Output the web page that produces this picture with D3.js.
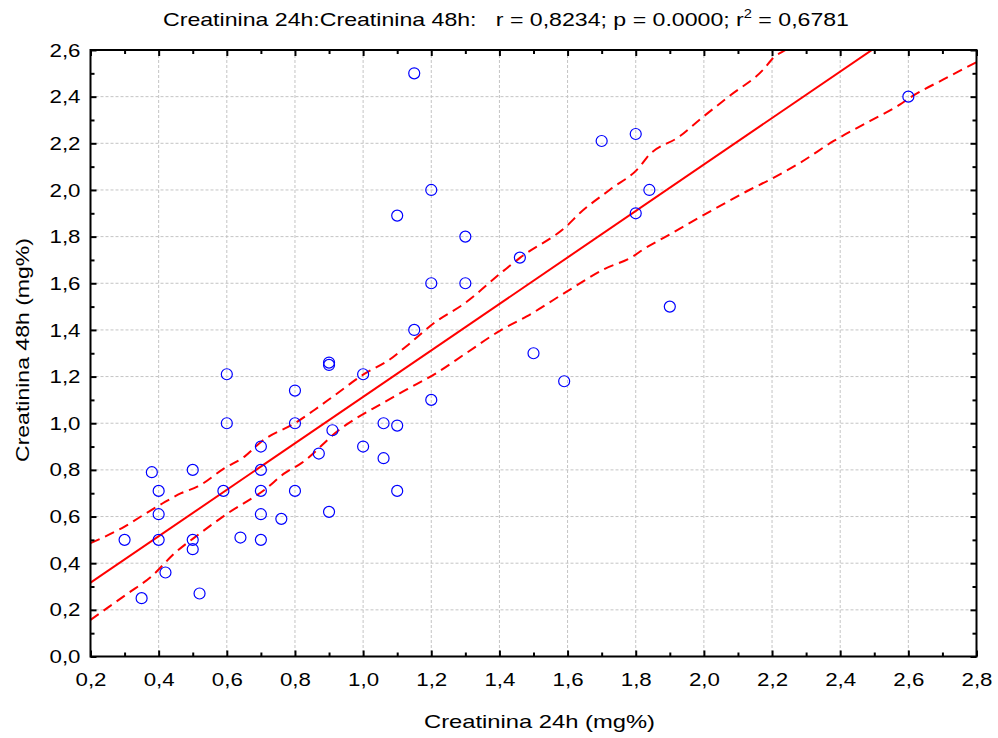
<!DOCTYPE html>
<html>
<head>
<meta charset="utf-8">
<script src="https://cdn.jsdelivr.net/npm/d3@7"></script>
<style>
  body { margin: 0; background: #fff; }
  svg { display: block; font-family: "Liberation Sans", Arial, sans-serif; }
</style>
</head>
<body>
<svg id="chart"></svg>
<script>
// Creatinina 24h vs 48h (mg%)
const pointsX = [0.30, 0.35, 0.38, 0.40, 0.40, 0.40, 0.42, 0.50, 0.50, 0.50, 0.52,
  0.60, 0.60, 0.59, 0.64, 0.70, 0.70, 0.70, 0.70, 0.70, 0.76, 0.80, 0.80, 0.80,
  0.87, 0.90, 0.90, 0.90, 0.91, 1.00, 1.00, 1.06, 1.06, 1.10, 1.10, 1.10, 1.15,
  1.15, 1.20, 1.20, 1.20, 1.30, 1.30, 1.46, 1.50, 1.59, 1.70, 1.80, 1.80, 1.84,
  1.90, 2.60];
const pointsY = [0.50, 0.25, 0.79, 0.71, 0.61, 0.50, 0.36, 0.80, 0.50, 0.46, 0.27,
  1.21, 1.00, 0.71, 0.51, 0.90, 0.80, 0.71, 0.61, 0.50, 0.59, 1.14, 1.00, 0.71,
  0.87, 1.26, 1.25, 0.62, 0.97, 1.21, 0.90, 1.00, 0.85, 1.89, 0.99, 0.71, 2.50,
  1.40, 2.00, 1.60, 1.10, 1.80, 1.60, 1.71, 1.30, 1.18, 2.21, 2.24, 1.90, 2.00,
  1.50, 2.40];

// regression line
const lineIntercept = 0.117;
const lineSlope = 0.996;
const lineX = [0.2, 2.8];

// 95% confidence band
const upperX = [0.2, 0.3, 0.364, 0.412, 0.466, 0.515, 0.594, 0.652, 0.702, 0.804,
  0.858, 0.912, 1.0, 1.078, 1.127, 1.215, 1.293, 1.411, 1.46, 1.597, 1.637, 1.725,
  1.813, 1.832, 1.93, 1.989, 2.077, 2.175, 2.204, 2.24, 2.3];
const upperY = [0.486, 0.557, 0.615, 0.657, 0.70, 0.729, 0.808, 0.857, 0.922, 1.004,
  1.058, 1.115, 1.208, 1.273, 1.33, 1.437, 1.509, 1.652, 1.709, 1.845, 1.902, 2.002,
  2.102, 2.138, 2.231, 2.303, 2.405, 2.517, 2.567, 2.60, 2.66];
const lowerX = [0.2, 0.31, 0.378, 0.447, 0.515, 0.604, 0.711, 0.77, 0.82, 0.93,
  1.058, 1.127, 1.215, 1.303, 1.411, 1.48, 1.607, 1.705, 1.793, 1.822, 1.891, 2.028,
  2.136, 2.195, 2.283, 2.381, 2.488, 2.576, 2.605, 2.703, 2.8];
const lowerY = [0.157, 0.271, 0.342, 0.443, 0.521, 0.615, 0.715, 0.786, 0.83, 0.972,
  1.087, 1.144, 1.215, 1.301, 1.405, 1.458, 1.573, 1.659, 1.716, 1.745, 1.802, 1.916,
  2.002, 2.045, 2.117, 2.21, 2.296, 2.367, 2.396, 2.474, 2.548];

const xTicks = d3.range(0.2, 2.81, 0.2);
const yTicks = d3.range(0, 2.61, 0.2);
const xMinor = d3.range(0.3, 2.8, 0.2);
const yMinor = d3.range(0.1, 2.6, 0.2);

const titleText = 'Creatinina 24h:Creatinina 48h:   r = 0,8234; p = 0.0000; r';
const xLabel = 'Creatinina 24h (mg%)';
const yLabel = 'Creatinina 48h (mg%)';

const W = 998, H = 738;
const margin = { top: 50, right: 21.5, bottom: 81.5, left: 90.5 };
const width = W - margin.left - margin.right;
const height = H - margin.top - margin.bottom;

const fmt = d3.formatLocale({ decimal: ',', thousands: '.', grouping: [3], currency: ['', ''] }).format('.1f');

const svg = d3.select('#chart').attr('width', W).attr('height', H);
const g = svg.append('g').attr('transform', `translate(${margin.left},${margin.top})`);

const xScale = d3.scaleLinear().domain([0.2, 2.8]).range([0, width]);
const yScale = d3.scaleLinear().domain([0, 2.6]).range([height, 0]);

// grid
g.append('g')
  .selectAll('line')
  .data(xTicks.slice(1, -1))
  .enter()
  .append('line')
  .attr('x1', (d) => xScale(d)).attr('x2', (d) => xScale(d))
  .attr('y1', 0).attr('y2', height)
  .attr('stroke', '#c4c4c4').attr('stroke-dasharray', '3,2');
g.append('g')
  .selectAll('line')
  .data(yTicks.slice(1, -1))
  .enter()
  .append('line')
  .attr('y1', (d) => yScale(d)).attr('y2', (d) => yScale(d))
  .attr('x1', 0).attr('x2', width)
  .attr('stroke', '#c4c4c4').attr('stroke-dasharray', '3,2');

g.append('clipPath').attr('id', 'clip')
  .append('rect').attr('width', width).attr('height', height);

const plot = g.append('g').attr('clip-path', 'url(#clip)');

const band = d3.line()
  .x((d) => xScale(d[0]))
  .y((d) => yScale(d[1]))
  .curve(d3.curveMonotoneX);

plot.append('path')
  .datum(d3.zip(upperX, upperY))
  .attr('fill', 'none').attr('stroke', '#ff0000').attr('stroke-width', 2)
  .attr('stroke-dasharray', '10,6')
  .attr('d', band);
plot.append('path')
  .datum(d3.zip(lowerX, lowerY))
  .attr('fill', 'none').attr('stroke', '#ff0000').attr('stroke-width', 2)
  .attr('stroke-dasharray', '10,6')
  .attr('d', band);

plot.append('path')
  .datum(lineX)
  .attr('fill', 'none').attr('stroke', '#ff0000').attr('stroke-width', 2)
  .attr('d', d3.line().x((d) => xScale(d)).y((d) => yScale(lineIntercept + lineSlope * d)));

plot.selectAll('circle')
  .data(d3.zip(pointsX, pointsY))
  .enter()
  .append('circle')
  .attr('cx', (d) => xScale(d[0]))
  .attr('cy', (d) => yScale(d[1]))
  .attr('r', 5.5)
  .attr('fill', 'none')
  .attr('stroke', '#0000ff')
  .attr('stroke-width', 1.2);

// axes, ticks point inward on all four sides
const styleAxis = (sel) => {
  sel.select('.domain').remove();
  sel.selectAll('line').attr('stroke', '#000').attr('stroke-width', 2);
  sel.selectAll('text')
    .attr('fill', '#000')
    .attr('textLength', 31)
    .attr('lengthAdjust', 'spacingAndGlyphs')
    .style('font-size', '19px');
};

g.append('g').attr('transform', `translate(0,${height})`)
  .call(d3.axisBottom(xScale).tickValues(xTicks).tickSize(-6).tickPadding(16).tickFormat(fmt))
  .call(styleAxis);
g.append('g').attr('transform', `translate(0,${height})`)
  .call(d3.axisBottom(xScale).tickValues(xMinor).tickSize(-4).tickFormat(''))
  .call(styleAxis);
g.append('g')
  .call(d3.axisTop(xScale).tickValues(xTicks).tickSize(-6).tickFormat(''))
  .call(styleAxis);
g.append('g')
  .call(d3.axisTop(xScale).tickValues(xMinor).tickSize(-4).tickFormat(''))
  .call(styleAxis);

g.append('g')
  .call(d3.axisLeft(yScale).tickValues(yTicks).tickSize(-6).tickPadding(10).tickFormat(fmt))
  .call(styleAxis);
g.append('g')
  .call(d3.axisLeft(yScale).tickValues(yMinor).tickSize(-4).tickFormat(''))
  .call(styleAxis);
g.append('g').attr('transform', `translate(${width},0)`)
  .call(d3.axisRight(yScale).tickValues(yTicks).tickSize(-6).tickFormat(''))
  .call(styleAxis);
g.append('g').attr('transform', `translate(${width},0)`)
  .call(d3.axisRight(yScale).tickValues(yMinor).tickSize(-4).tickFormat(''))
  .call(styleAxis);

g.append('rect')
  .attr('width', width).attr('height', height)
  .attr('fill', 'none').attr('stroke', '#000').attr('stroke-width', 2);

// title and axis labels
const title = svg.append('text')
  .attr('x', 163).attr('y', 26)
  .attr('textLength', 686)
  .attr('lengthAdjust', 'spacingAndGlyphs')
  .style('font-size', '19px')
  .style('white-space', 'pre')
  .attr('fill', '#000');
title.append('tspan').text(titleText);
title.append('tspan').attr('dy', -8).style('font-size', '12px').text('2');
title.append('tspan').attr('dy', 8).text(' = 0,6781');

svg.append('text')
  .attr('x', 424).attr('y', H - 10)
  .attr('textLength', 231)
  .attr('lengthAdjust', 'spacingAndGlyphs')
  .style('font-size', '19px')
  .attr('fill', '#000')
  .text(xLabel);

svg.append('text')
  .attr('transform', `translate(29,462) rotate(-90)`)
  .attr('textLength', 224)
  .attr('lengthAdjust', 'spacingAndGlyphs')
  .style('font-size', '19px')
  .attr('fill', '#000')
  .text(yLabel);
</script>
</body>
</html>
